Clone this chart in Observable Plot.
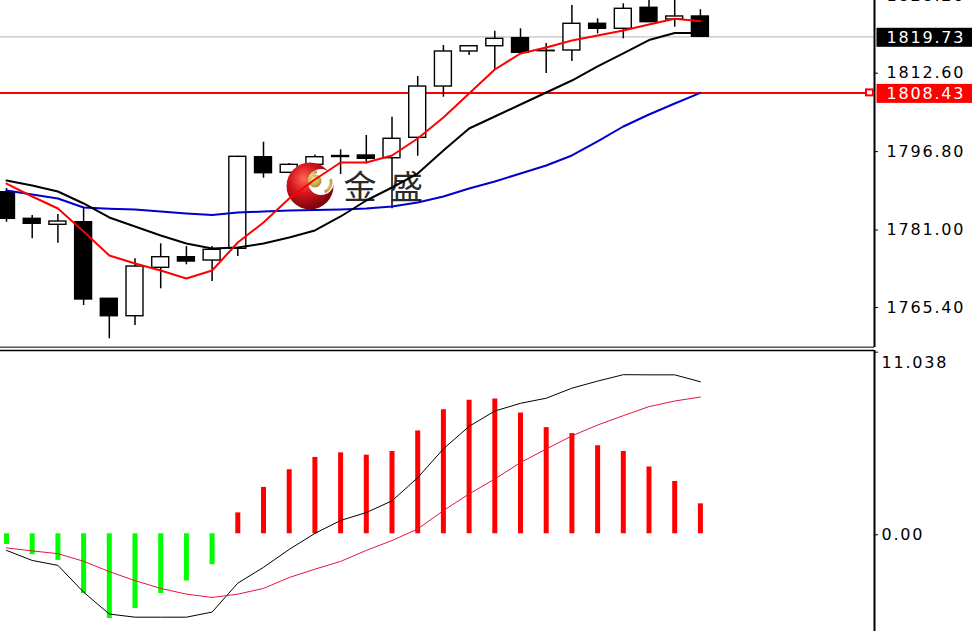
<!DOCTYPE html>
<html>
<head>
<meta charset="utf-8">
<script src="https://cdn.jsdelivr.net/npm/d3@7"></script>
<script src="https://cdn.jsdelivr.net/npm/@observablehq/plot@0.6"></script>
<style>
  html, body { margin: 0; padding: 0; background: #fff; }
  #chart { position: relative; width: 972px; height: 631px; overflow: hidden; background: #fff; }
  #price { position: absolute; left: 0; top: 0; }
  #macd { position: absolute; left: 0; top: 348px; }
</style>
</head>
<body>
<div id="chart"><div id="price"></div><div id="macd"></div></div>
<script>
// Candles (one per bar, oldest first)
const open  = [1788.42, 1783.06, 1781.86, 1782.38, 1766.95, 1763.44, 1773.19, 1775.33, 1774.66, 1777.02, 1795.47, 1792.33, 1793.94, 1795.51, 1795.82, 1795.27, 1799.38, 1809.71, 1816.77, 1817.83, 1819.45, 1816.91, 1816.97, 1822.35, 1821.34, 1825.57, 1823.21, 1823.82];
const high  = [1789.17, 1783.73, 1783.93, 1785.40, 1766.95, 1775.00, 1778.03, 1777.48, 1777.48, 1795.67, 1798.49, 1794.20, 1795.90, 1796.96, 1799.84, 1803.53, 1811.73, 1817.97, 1817.83, 1820.86, 1821.34, 1818.38, 1826.03, 1823.35, 1826.38, 1827.24, 1827.24, 1825.17];
const low   = [1782.38, 1779.03, 1778.15, 1765.60, 1758.89, 1761.57, 1768.96, 1773.80, 1770.43, 1775.47, 1791.24, 1792.20, 1793.50, 1791.99, 1794.14, 1785.08, 1795.67, 1807.56, 1815.96, 1812.94, 1816.40, 1812.33, 1814.75, 1820.33, 1819.32, 1822.60, 1821.66, 1819.73];
const close = [1783.06, 1782.06, 1782.52, 1766.81, 1763.44, 1773.45, 1775.33, 1774.46, 1776.82, 1795.55, 1792.25, 1793.94, 1795.47, 1795.71, 1795.15, 1799.18, 1809.71, 1816.77, 1817.83, 1819.32, 1816.50, 1816.83, 1822.35, 1821.34, 1825.37, 1822.67, 1823.82, 1819.73];

// Moving averages: fast (red), medium (black), slow (blue)
const maFast = [1790.17, 1787.56, 1785.14, 1780.51, 1775.67, 1774.06, 1772.65, 1771.04, 1772.65, 1778.29, 1782.32, 1787.16, 1790.98, 1794.41, 1794.41, 1795.82, 1799.24, 1803.47, 1808.31, 1813.14, 1816.36, 1817.57, 1818.98, 1819.99, 1821.00, 1822.21, 1823.35, 1822.87];
const maMid  = [1790.78, 1789.77, 1788.56, 1786.15, 1783.33, 1781.51, 1779.70, 1778.09, 1777.08, 1777.28, 1778.09, 1779.30, 1780.71, 1783.53, 1786.75, 1789.37, 1792.19, 1796.82, 1801.25, 1803.67, 1806.09, 1808.51, 1810.92, 1813.75, 1816.37, 1819.08, 1820.49, 1820.49];
const maSlow = [1788.76, 1787.96, 1787.15, 1785.34, 1785.10, 1784.94, 1784.53, 1784.13, 1783.83, 1784.33, 1784.53, 1784.74, 1784.84, 1784.94, 1785.14, 1785.54, 1786.35, 1787.56, 1789.17, 1790.58, 1792.19, 1793.80, 1795.82, 1798.64, 1801.66, 1804.08, 1806.29, 1808.43];

// MACD pane
const macdHist   = [-0.65, -1.27, -1.62, -3.63, -5.15, -4.54, -3.63, -2.87, -1.88, 1.27, 2.82, 3.89, 4.64, 4.92, 4.78, 5.00, 6.25, 7.54, 8.11, 8.19, 7.34, 6.45, 6.09, 5.35, 5.00, 4.06, 3.18, 1.82];
const macdLine   = [-1.01, -1.62, -1.92, -3.55, -4.88, -5.07, -5.07, -5.07, -4.76, -3.00, -2.04, -0.95, 0.02, 0.81, 1.29, 2.00, 3.41, 5.16, 6.53, 7.46, 7.93, 8.24, 8.85, 9.28, 9.67, 9.66, 9.66, 9.24];
const macdSignal = [-0.86, -1.04, -1.21, -1.67, -2.30, -2.85, -3.32, -3.67, -3.87, -3.67, -3.32, -2.66, -2.15, -1.68, -1.01, -0.41, 0.29, 1.41, 2.42, 3.33, 4.33, 5.15, 5.95, 6.61, 7.18, 7.73, 8.07, 8.31];

// Axis labels
const priceTicks = [1765.40, 1781.00, 1796.80, 1812.60, 1828.20];
const macdMax = 11.038;
const lastPrice = close[close.length - 1];
const slowLevel = maSlow[maSlow.length - 1];

const bars = open.map((o, i) => ({
  i, open: o, high: high[i], low: low[i], close: close[i],
  fast: maFast[i], mid: maMid[i], slow: maSlow[i],
  hist: macdHist[i], macd: macdLine[i], signal: macdSignal[i]
}));

const xDomain = [-0.2335, 33.774];
const axisStyle = "background:#fff;font-family:'DejaVu Sans',sans-serif;font-size:16px;letter-spacing:1.8px;color:#000;";

const price = Plot.plot({
  width: 972, height: 348,
  marginLeft: 0, marginRight: 98, marginTop: 0, marginBottom: 1,
  style: axisStyle,
  x: {domain: xDomain, axis: null},
  y: {domain: [1757.14, 1827.04]},
  marks: [
    Plot.ruleY([lastPrice], {stroke: "#c4c4c4", strokeWidth: 1.2}),
    Plot.ruleY([slowLevel], {stroke: "#ff0000", strokeWidth: 2}),
    Plot.ruleX(bars, {x: "i", y1: "low", y2: "high", stroke: "#000", strokeWidth: 1.5}),
    Plot.rect(bars, {
      x1: d => d.i - 0.33, x2: d => d.i + 0.33, y1: "open", y2: "close",
      fill: d => d.close >= d.open ? "#ffffff" : "#000000",
      stroke: "#000", strokeWidth: 1.4
    }),
    Plot.line(bars, {x: "i", y: "slow", stroke: "#0000cc", strokeWidth: 2}),
    Plot.line(bars, {x: "i", y: "mid", stroke: "#000", strokeWidth: 2}),
    Plot.line(bars, {x: "i", y: "fast", stroke: "#ff0000", strokeWidth: 2}),
    Plot.ruleY([1757.14], {stroke: "#555", strokeWidth: 2}),
    Plot.ruleX([xDomain[1]], {stroke: "#000", strokeWidth: 2}),
    Plot.axisY(priceTicks, {anchor: "right", tickSize: 3, tickPadding: 9, dy: 1, tickFormat: d => d.toFixed(2)})
  ]
});
document.getElementById("price").appendChild(price);

// price tags on the right-hand scale, and the watermark
{
  const svg = d3.select(price);
  const y = price.scale("y");
  const tag = (value, bg) => {
    const cy = y.apply(value) + 1;
    svg.append("rect").attr("x", 876.5).attr("y", cy - 9.5).attr("width", 96).attr("height", 19).attr("fill", bg);
    svg.append("text").attr("x", 886.5).attr("y", cy).attr("dy", "0.35em")
      .attr("text-anchor", "start").attr("fill", "#fff").attr("font-size", 16).text(value.toFixed(2));
  };
  tag(lastPrice, "#000");
  tag(slowLevel, "#ff0000");
  const ly = y.apply(slowLevel);
  svg.append("rect").attr("x", 866).attr("y", ly - 3).attr("width", 7).attr("height", 6)
    .attr("fill", "#fff").attr("stroke", "#ff0000").attr("stroke-width", 2);

  const defs = svg.insert("defs", "g");
  const orb = defs.append("radialGradient").attr("id", "orb").attr("cx", "38%").attr("cy", "35%").attr("r", "70%");
  orb.append("stop").attr("offset", "0%").attr("stop-color", "#ff6a55");
  orb.append("stop").attr("offset", "45%").attr("stop-color", "#d4141c");
  orb.append("stop").attr("offset", "100%").attr("stop-color", "#6e0208");
  const gold = defs.append("radialGradient").attr("id", "gold").attr("cx", "40%").attr("cy", "35%").attr("r", "70%");
  gold.append("stop").attr("offset", "0%").attr("stop-color", "#f6e69a");
  gold.append("stop").attr("offset", "100%").attr("stop-color", "#a88a1e");

  // the watermark sits above the candles and below the moving averages
  const layers = price.querySelectorAll(":scope > g");
  const wm = d3.select(price.insertBefore(document.createElementNS("http://www.w3.org/2000/svg", "g"), layers[4]))
    .attr("aria-label", "watermark");
  wm.append("circle").attr("cx", 310).attr("cy", 186).attr("r", 23.5).attr("fill", "url(#orb)");
  wm.append("circle").attr("cx", 321).attr("cy", 182).attr("r", 13).attr("fill", "#fff");
  const arc = d3.arc().innerRadius(9.5).outerRadius(12.5);
  wm.append("path").attr("transform", "translate(320,182)")
    .attr("d", arc({startAngle: -1.9, endAngle: -0.3})).attr("fill", "url(#gold)");
  wm.append("path").attr("transform", "translate(320,182)")
    .attr("d", arc({startAngle: 1.3, endAngle: 2.7})).attr("fill", "url(#gold)");
  wm.append("circle").attr("cx", 315).attr("cy", 181).attr("r", 6.5).attr("fill", "url(#gold)");
  wm.append("text").attr("x", 343.5).attr("y", 199).attr("text-anchor", "start")
    .attr("font-family", "'Noto Sans CJK SC'").attr("font-size", 33)
    .attr("letter-spacing", "13.5px").attr("fill", "#2a2a2a").text("金盛");
}

const macd = Plot.plot({
  width: 972, height: 283,
  marginLeft: 0, marginRight: 98, marginTop: 2, marginBottom: 0,
  style: axisStyle,
  x: {domain: xDomain, axis: null},
  y: {domain: [-5.94, 11.14]},
  marks: [
    Plot.ruleY([11.14], {stroke: "#000", strokeWidth: 1.5}),
    Plot.ruleX([xDomain[1]], {stroke: "#000", strokeWidth: 2}),
    Plot.ruleX(bars, {x: "i", y1: 0, y2: "hist", stroke: d => d.hist < 0 ? "#00ff00" : "#ff0000", strokeWidth: 5}),
    Plot.line(bars, {x: "i", y: "macd", stroke: "#000", strokeWidth: 1}),
    Plot.line(bars, {x: "i", y: "signal", stroke: "#e3163f", strokeWidth: 1}),
    Plot.axisY([0], {anchor: "right", tickSize: 3, tickPadding: 4, dy: 1, tickFormat: d => d.toFixed(2)}),
    Plot.axisY([macdMax], {anchor: "right", tickSize: 3, tickFormat: () => ""}),
    Plot.axisY([macdMax], {anchor: "right", tickSize: 0, tickPadding: 7, dy: 11, tickFormat: d => d.toFixed(3)})
  ]
});
document.getElementById("macd").appendChild(macd);
</script>
</body>
</html>
